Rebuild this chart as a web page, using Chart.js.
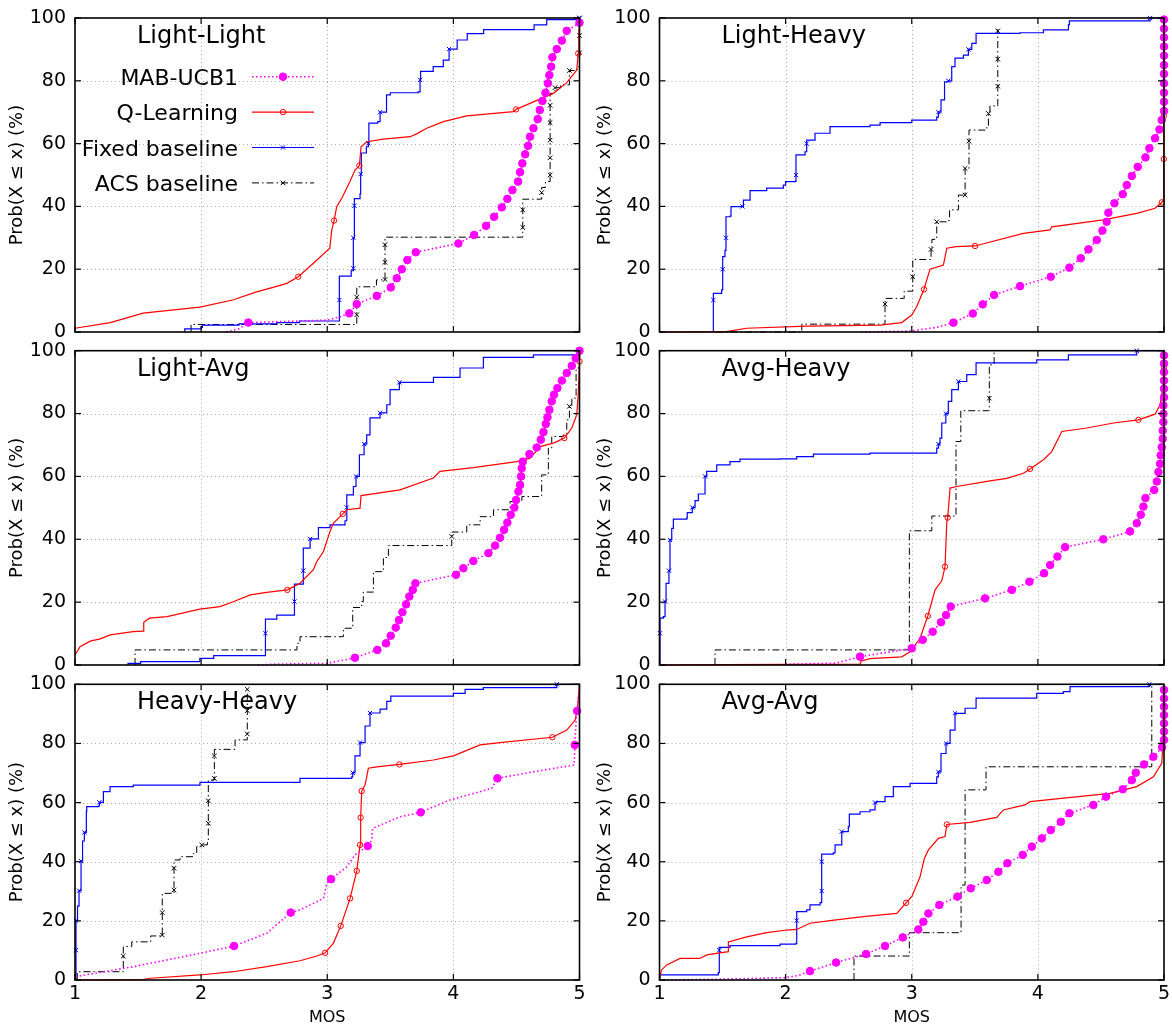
<!DOCTYPE html>
<html>
<head>
<meta charset="utf-8">
<script src="https://cdn.jsdelivr.net/npm/chart.js@4.4.1/dist/chart.umd.min.js"></script>
<style>
html, body { margin: 0; padding: 0; background: #fff; }
#wrap { position: relative; width: 1172px; height: 1027px; overflow: hidden; }
canvas { position: absolute; }
</style>
</head>
<body>
<div id="wrap"></div>
<script>
// [MOS, Prob %] ; a third value of 1 marks a point that carries a marker
const llMab = [[2.2,0],[2.3,1.0],[2.374,3.0,1],[2.7,3.4],[3.0,3.8],[3.1,4.8],[3.175,5.95,1],[3.234,8.9,1],[3.393,11.5,1],[3.504,14.2,1],[3.551,17.1,1],[3.591,20.0,1],[3.635,22.9,1],[3.702,25.4,1],[4.04,28.2,1],[4.164,30.9,1],[4.259,33.8,1],[4.323,36.7,1],[4.384,39.7,1],[4.428,42.4,1],[4.468,45.2,1],[4.513,47.9,1],[4.529,50.9,1],[4.547,53.7,1],[4.569,56.6,1],[4.592,59.3,1],[4.608,62.2,1],[4.635,64.9,1],[4.669,67.8,1],[4.685,70.7,1],[4.706,73.6,1],[4.73,76.2,1],[4.749,79.2,1],[4.761,81.8,1],[4.775,84.5,1],[4.785,87.5,1],[4.82,90.1,1],[4.86,92.8,1],[4.899,95.9,1],[5.0,98.5,1],[5.0,100]];
const llQ = [[1.0,1.2],[1.28,3.0],[1.54,6.0],[1.99,7.9],[2.25,10.2],[2.44,12.8],[2.57,14.2],[2.68,15.5],[2.77,17.6,1],[2.89,21.9],[3.02,26.7],[3.036,32.5],[3.054,35.5,1],[3.075,39.9],[3.115,42.6],[3.18,47.9],[3.22,51.6],[3.255,53,1],[3.268,59],[3.313,60.6],[3.445,61.4],[3.657,62.2],[3.709,63.1],[3.789,64.9],[3.921,67],[4.106,68.8],[4.476,70.2],[4.497,70.9,1],[4.635,73.3],[4.793,76],[4.899,79.4],[4.978,83.4],[4.99,88.7,1],[4.995,95],[5.0,100]];
const llFix = [[1.86,0],[1.87,1],[2.0,1.5],[2.01,2.2],[2.3,2.6],[2.6,3.0],[2.78,3.5],[3.096,3.8],[3.096,10.2,1],[3.096,17.8],[3.19,19.5],[3.207,20.3,1],[3.207,30,1],[3.215,40.2,1],[3.215,42.5],[3.26,44],[3.265,50.3,1],[3.27,57],[3.31,59],[3.326,60.1,1],[3.33,66.5],[3.40,67],[3.419,70,1],[3.47,75.5],[3.50,76.2],[3.72,76.5],[3.736,80.3,1],[3.74,83],[3.84,84.5],[3.92,86.6],[3.966,90.1,1],[4.03,93],[4.11,95],[4.24,96.3],[4.64,97.8],[4.74,99.5],[5.0,100,1]];
const llAcs = [[1.92,0],[1.92,2.4],[3.234,2.4],[3.234,5.5,1],[3.234,11.1,1],[3.234,14.4],[3.39,14.4],[3.39,16.6],[3.458,16.6],[3.458,16.7,1],[3.458,22.2,1],[3.458,27.8,1],[3.458,30.2],[4.55,30.2],[4.55,33.3,1],[4.55,38.9,1],[4.55,42.3],[4.69,42.3],[4.70,44.4,1],[4.70,46],[4.73,47.9],[4.767,47.9],[4.767,50,1],[4.767,55.5,1],[4.767,61.1,1],[4.767,66.7,1],[4.767,72.2,1],[4.767,76],[4.806,77.8,1],[4.85,78.7],[4.92,80],[4.92,83.3,1],[4.98,84.5],[5.0,88.9,1],[5.0,94.4,1],[5.0,100,1]];

const lhMab = [[2.6,0],[2.99,0.3],[3.2,1.5],[3.33,2.97,1],[3.484,5.9,1],[3.563,8.8,1],[3.653,11.8,1],[3.859,14.6,1],[4.102,17.6,1],[4.25,20.5,1],[4.34,23.5,1],[4.401,26.3,1],[4.467,29.3,1],[4.512,32.3,1],[4.546,35.1,1],[4.559,38,1],[4.607,41,1],[4.673,43.9,1],[4.705,46.8,1],[4.745,49.7,1],[4.792,52.6,1],[4.853,55.6,1],[4.884,58.5,1],[4.929,61.7,1],[4.964,64.5,1],[4.982,67.5,1],[5.0,70.4,1],[5.0,73.3,1],[5.0,76.2,1],[5.0,79.2,1],[5.0,82.2,1],[5.0,85.0,1],[5.0,88.0,1],[5.0,90.9,1],[5.0,93.8,1],[5.0,96.6,1],[5.0,99.5,1]];
const lhQ = [[1.0,0],[1.53,0.1],[1.69,1.2],[2.17,1.9],[2.75,2.2],[2.92,3.0],[3.0,5.4],[3.04,8.1],[3.097,13.6,1],[3.145,20],[3.251,21.3],[3.278,26.7],[3.35,27.2],[3.502,27.4,1],[3.885,31.4],[4.097,32.5],[4.11,33.5],[4.519,35.7],[4.784,37.8],[4.929,39.4],[4.983,41.3,1],[4.995,42],[4.998,55.1,1],[4.998,68.8,1],[4.998,82.6,1],[4.998,96.4,1],[5.0,100]];
const lhFix = [[1.427,0],[1.427,10.2,1],[1.427,12.3],[1.493,13.4],[1.501,20,1],[1.501,24],[1.519,26],[1.527,30,1],[1.527,36.7],[1.559,36.9],[1.567,39.9],[1.657,40,1],[1.665,42],[1.718,45],[1.85,45.8],[1.982,46.8],[2.0,47.9],[2.075,48],[2.082,50,1],[2.082,56.4],[2.154,57.4],[2.167,60,1],[2.167,61.1],[2.233,63.3],[2.352,65.4],[2.669,65.9],[2.749,66.7],[3.0,67.5],[3.198,68.4],[3.211,70,1],[3.232,73.9],[3.26,79.7],[3.29,80,1],[3.317,84.5],[3.343,87.2],[3.41,88.2],[3.449,90,1],[3.476,91.9],[3.51,95.1],[3.859,95.3],[4.044,96.2],[4.242,97.8],[4.25,99.1],[4.89,100,1],[5.0,100]];
const lhAcs = [[1.45,0],[2.128,0.3],[2.128,2.5],[2.77,2.5],[2.788,8.9,1],[2.79,10.7],[2.933,10.7],[2.94,13],[3.008,13],[3.008,17.6,1],[3.008,23.1],[3.15,23.5],[3.153,26.3,1],[3.16,29.5],[3.198,35.1,1],[3.28,35.5],[3.30,38.9],[3.37,43.6],[3.423,43.6,1],[3.423,52.1,1],[3.454,60.8,1],[3.454,64.3],[3.595,65.6],[3.608,69.6,1],[3.62,72],[3.682,72.5],[3.682,78.3,1],[3.682,86.9,1],[3.682,95.9,1],[3.682,96.4]];

const laMab = [[2.45,0],[2.6,0.3],[3.0,0.5],[3.22,2.3,1],[3.397,4.8,1],[3.466,6.9,1],[3.503,9.3,1],[3.543,11.9,1],[3.569,14.3,1],[3.596,16.8,1],[3.625,19.3,1],[3.651,21.8,1],[3.678,23.9,1],[3.699,26,1],[4.021,28.7,1],[4.079,30.8,1],[4.158,33.1,1],[4.278,35.6,1],[4.331,38,1],[4.37,40.5,1],[4.402,43,1],[4.428,45.3,1],[4.455,47.8,1],[4.484,50.1,1],[4.497,52.5,1],[4.516,55.2,1],[4.529,57.3,1],[4.537,60,1],[4.542,62.6,1],[4.55,64.7,1],[4.603,67.1,1],[4.661,69.2,1],[4.693,71.7,1],[4.714,74.1,1],[4.733,76.7,1],[4.746,78.8,1],[4.761,81.2,1],[4.78,83.9,1],[4.798,86,1],[4.825,88.1,1],[4.86,90.5,1],[4.899,92.9,1],[4.939,95.2,1],[4.97,97.6,1],[5.0,100,1]];
const laQ = [[1.0,3.2],[1.04,5.8],[1.12,7.6],[1.2,8.3],[1.28,9.6],[1.46,10.6],[1.54,10.8],[1.545,13.6],[1.59,14.9],[1.73,15.4],[1.99,17.8],[2.15,18.6],[2.26,20.2],[2.39,22.3],[2.52,23.1],[2.684,23.9,1],[2.76,25.5],[2.784,26],[2.89,30.3],[2.917,32.9],[2.97,36.1],[3.022,42.5],[3.048,45.1],[3.123,48.1,1],[3.155,49.4],[3.26,49.9],[3.268,53.9],[3.577,55.7],[3.841,59.5],[3.894,61.6],[4.158,62.8],[4.502,64.7],[4.608,65.8],[4.687,69.5],[4.793,70.6],[4.88,72.2,1],[4.939,75.4],[4.978,79.6],[4.99,86],[5.0,96.6,1],[5.0,100]];
const laFix = [[1.42,0],[1.42,0.5],[1.52,1.1],[1.99,2.1],[2.1,3.0],[2.51,3.7],[2.51,10.1,1],[2.51,14.6],[2.6,15.9],[2.74,16.8],[2.74,20.2,1],[2.74,25.7],[2.81,26.5],[2.81,30,1],[2.81,37.2],[2.864,40.1,1],[2.93,43.7],[3.022,44.6],[3.141,45.9],[3.155,50.1,1],[3.155,54.1],[3.207,56.8],[3.228,60,1],[3.255,66.9],[3.292,70.3,1],[3.313,73.2],[3.339,78.6],[3.419,80.2,1],[3.472,82.8],[3.498,87.6],[3.572,89.9,1],[3.842,91.5],[4.053,94.5],[4.238,97.9],[4.635,98.7],[5.0,100,1]];
const laAcs = [[1.476,0],[1.476,4.8],[2.72,4.8],[2.76,6.9],[2.784,9.0],[3.128,9.0],[3.128,11.7],[3.202,11.7],[3.202,18.3],[3.273,20.2],[3.286,23.2],[3.366,23.2],[3.366,29.7],[3.432,30.3],[3.445,34.2],[3.485,38],[3.987,38],[3.987,40.9,1],[3.987,42.3],[4.079,42.3],[4.106,44.6],[4.212,47.2],[4.318,49.4],[4.45,52],[4.543,53.6],[4.687,53.8],[4.7,60.5],[4.753,69],[4.78,72.7],[4.872,73.2],[4.899,78],[4.92,82.3,1],[4.939,84.9],[4.973,87],[4.973,94.5],[5.0,98.7],[5.0,100]];

const ahMab = [[2.0,0.2],[2.4,0.6],[2.59,2.65,1],[2.8,4.0],[3.0,5.3,1],[3.087,8.0,1],[3.166,10.6,1],[3.232,13.6,1],[3.272,15.9,1],[3.309,18.6,1],[3.581,21.2,1],[3.793,23.9,1],[3.933,26.5,1],[4.049,29.2,1],[4.097,31.8,1],[4.155,34.5,1],[4.216,37.5,1],[4.519,40,1],[4.731,42.5,1],[4.784,45.1,1],[4.816,47.8,1],[4.837,50.4,1],[4.853,53.1,1],[4.922,55.7,1],[4.943,58.4,1],[4.956,61.4,1],[4.969,64,1],[4.974,66.7,1],[4.982,69.3,1],[4.99,72,1],[4.99,74.6,1],[4.995,77.3,1],[4.995,79.9,1],[4.995,82.6,1],[5.0,85.2,1],[5.0,87.9,1],[5.0,90.5,1],[5.0,93.2,1],[5.0,95.9,1],[5.0,98.5,1]];
const ahQ = [[1.0,0],[1.5,0.1],[2.59,0.3],[2.6,1.3],[2.669,2.0],[2.92,2.6],[2.987,4.2],[3.066,8.5],[3.127,15.6,1],[3.185,23.9],[3.238,26.8],[3.264,31.3,1],[3.278,45.6],[3.285,46.9,1],[3.304,56.3],[3.357,56.8],[3.595,58.4],[3.753,59.4],[3.885,61],[3.938,62.4,1],[4.044,65.3],[4.11,67.9],[4.19,74.3],[4.388,75.4],[4.599,77],[4.797,78,1],[4.929,79.8],[4.969,82.8],[4.99,88.1],[5.0,94.6,1],[5.0,100]];
const ahFix = [[1.004,0],[1.004,10.1,1],[1.004,14.9],[1.03,15.4],[1.044,20.2,1],[1.052,26],[1.07,26],[1.075,30,1],[1.083,39.8,1],[1.097,43.5],[1.11,46.4],[1.216,46.7],[1.22,48.5],[1.26,50.1,1],[1.282,52.3],[1.308,54.4],[1.361,54.4],[1.361,60,1],[1.374,61.6],[1.44,61.6],[1.454,63.7],[1.559,64.7],[1.638,65.5],[1.956,65.6],[2.088,66.3],[2.22,67.1],[2.669,67.4],[3.198,69],[3.211,70.3,1],[3.224,72.2],[3.238,77],[3.27,80,1],[3.29,83.9],[3.317,87.6],[3.37,90.2,1],[3.436,92.4],[3.51,96.1],[3.991,97.1],[4.242,98.7],[4.784,100,1],[5.0,100]];
const ahAcs = [[1.44,0],[1.44,4.8],[2.981,4.8],[2.981,42.7],[3.159,42.7],[3.159,47.4],[3.351,47.4],[3.351,71.1],[3.389,71.1],[3.389,80.9],[3.608,80.9],[3.615,84.9,1],[3.615,95.5],[3.653,95.5],[3.653,100]];

const hhMab = [[1.0,0],[1.0,1.1],[1.463,4.5],[1.99,9.0],[2.261,11.5,1],[2.52,15.8],[2.71,22.8,1],[2.784,23.7],[2.97,27.6],[2.996,32.7],[3.03,34.1,1],[3.155,38.3],[3.22,42.3],[3.321,45.3,1],[3.353,47.3],[3.36,51.3],[3.577,55.2],[3.741,56.7,1],[3.974,60.9],[4.304,64.8],[4.349,68.2,1],[4.635,70.4],[4.957,72.7],[4.963,77.8],[4.963,79.5,1],[4.975,89],[4.981,91,1],[5.0,100]];
const hhQ = [[1.0,0],[1.54,0.1],[1.6,0.6],[1.99,1.7],[2.256,2.8],[2.52,4.5],[2.784,6.5],[2.917,8.1],[2.983,9.2,1],[3.048,12.4],[3.107,18.3,1],[3.181,27.6,1],[3.234,36.9,1],[3.26,45.7,1],[3.265,54.9,1],[3.273,63.9,1],[3.3,65.9],[3.326,71.6],[3.392,72.1],[3.572,72.9,1],[3.842,74.4],[4.0,75.8],[4.212,79.5],[4.37,80.3],[4.785,82.1,1],[4.899,84.5],[4.965,87.9],[4.981,91,1],[4.99,94.7],[5.0,100]];
const hhFix = [[1.008,0],[1.008,10.1,1],[1.008,20.1,1],[1.02,25],[1.032,30.2,1],[1.048,40.2,1],[1.06,47],[1.074,49.9,1],[1.09,57],[1.093,58.6],[1.185,58.8],[1.193,60.1,1],[1.225,63.7],[1.278,65.4],[1.462,65.9],[1.991,66.8],[2.784,68.2],[3.194,68.7],[3.202,70.1,1],[3.22,75.8],[3.26,80.3,1],[3.3,85.9],[3.339,90.3,1],[3.419,91.6],[3.472,94.2],[3.504,96],[4.0,96.9],[4.093,98.3],[4.238,98.9],[4.82,100,1],[5.0,100]];
const hhAcs = [[1.018,0],[1.018,2.8],[1.383,2.8],[1.383,8.1,1],[1.383,11.3],[1.45,12.9],[1.595,12.9],[1.60,14.9],[1.692,14.9],[1.692,15.2,1],[1.692,22.8,1],[1.692,29.3],[1.785,29.3],[1.785,30.4,1],[1.785,37.8,1],[1.785,40.6],[1.833,41.7],[1.938,42.8],[1.965,45.1],[2.005,45.7,1],[2.05,46.8],[2.057,53,1],[2.057,60.6,1],[2.057,67.6],[2.105,68.2,1],[2.105,75.8,1],[2.105,78],[2.269,78],[2.269,81.2],[2.366,81.2],[2.366,83.2,1],[2.366,91.1,1],[2.366,98.3,1],[2.366,99.2]];

const aaMab = [[1.0,0],[1.5,0.3],[2.0,0.8],[2.1,1.5],[2.193,3.0,1],[2.4,5.9,1],[2.638,8.8,1],[2.788,11.5,1],[2.929,14.4,1],[3.052,17.1,1],[3.092,19.7,1],[3.132,22.5,1],[3.219,25.4,1],[3.362,28.2,1],[3.468,31,1],[3.595,33.8,1],[3.687,36.6,1],[3.758,39.5,1],[3.88,42.3,1],[3.952,45.1,1],[4.031,47.9,1],[4.102,50.7,1],[4.182,53.5,1],[4.25,56.4,1],[4.44,59.2,1],[4.541,62,1],[4.673,64.5,1],[4.745,67.6,1],[4.776,70.1,1],[4.842,72.9,1],[4.916,75.5,1],[4.985,78.7,1],[5.0,81.2,1],[5.0,84,1],[5.0,86.8,1],[5.0,89.6,1],[5.0,92.4,1],[5.0,95.2,1],[5.0,98.1,1]];
const aaQ = [[1.0,0.6],[1.017,3.4],[1.057,5.1],[1.163,7.3],[1.321,7.3],[1.374,8.5],[1.546,9.6],[1.546,12.9],[1.692,14.6],[1.85,16],[2.009,16.9],[2.088,17.1],[2.193,19.2],[2.352,20.1],[2.616,21.4],[2.881,22.5],[2.955,26.1,1],[3.0,28.2],[3.066,34.9],[3.1,41.1],[3.132,44],[3.211,47.9],[3.264,48.5],[3.278,52.6,1],[3.462,53.3],[3.674,55],[3.726,57.5],[3.898,59.2],[3.938,60.3],[4.321,62],[4.572,63.1],[4.784,65.4],[4.916,68.7],[4.982,73.3],[4.99,78.9,1],[5.0,100]];
const aaFix = [[1.004,0],[1.004,1.7],[1.32,1.7],[1.466,2.5],[1.474,10.1,1],[1.474,11],[1.559,11.6],[1.956,12.1],[2.082,12.4],[2.088,20.1,1],[2.088,23.1],[2.167,23.7],[2.193,25.4],[2.273,26.2],[2.286,30.1,1],[2.286,40,1],[2.286,42.6],[2.378,43],[2.392,45.7],[2.445,45.7],[2.445,50.2,1],[2.497,51.9],[2.505,56.1],[2.59,56.9],[2.669,57.5],[2.709,60,1],[2.722,60.3],[2.788,62],[2.854,65.4],[2.987,66.5],[3.198,68.7],[3.211,70.4,1],[3.232,76.6],[3.272,80,1],[3.304,84.5],[3.343,90.2,1],[3.423,91.9],[3.51,95.3],[3.991,96.9],[4.202,97.5],[4.255,99.2],[4.884,100,1],[5.0,100]];
const aaAcs = [[2.542,0],[2.542,8.1],[2.981,8.1],[2.981,16],[3.391,16],[3.391,32.1],[3.423,32.1],[3.423,64.3],[3.589,64.3],[3.589,72.1],[4.903,72.1],[4.903,100]];

const xTicks = [1, 2, 3, 4, 5];
const yTicks = [0, 20, 40, 60, 80, 100];
const xGrid = [2, 3, 4];
const yGrid = [20, 40, 60, 80];

const FONT = 'DejaVu Sans';
Chart.defaults.font.family = FONT;
Chart.defaults.color = '#000';

const SERIES = [
  { label: 'MAB-UCB1', color: '#ff00ff', width: 1.6, dash: [1.5, 2.5], point: 'circle', r: 3.8, filled: true, stepped: false },
  { label: 'Q-Learning', color: '#ff0000', width: 1.2, dash: [], point: 'circle', r: 2.7, filled: false, stepped: false },
  { label: 'Fixed baseline', color: '#0000ff', width: 1.2, dash: [], point: 'crossRot', r: 3, filled: false, stepped: true },
  { label: 'ACS baseline', color: '#000000', width: 1, dash: [7, 3, 1.5, 3], point: 'crossRot', r: 3.2, filled: false, stepped: true }
];

const PANELS = [
  { title: 'Light-Light', data: [llMab, llQ, llFix, llAcs], left: 0,   top: 0,   w: 590, h: 340, yw: 75,   padT: 18,   padR: 10.5, xh: 8,  bottom: false, legend: true },
  { title: 'Light-Heavy', data: [lhMab, lhQ, lhFix, lhAcs], left: 588, top: 0,   w: 584, h: 340, yw: 71.5, padT: 18,   padR: 8,    xh: 8,  bottom: false },
  { title: 'Light-Avg',   data: [laMab, laQ, laFix, laAcs], left: 0,   top: 335, w: 590, h: 340, yw: 75,   padT: 15.7, padR: 10.5, xh: 10, bottom: false },
  { title: 'Avg-Heavy',   data: [ahMab, ahQ, ahFix, ahAcs], left: 588, top: 335, w: 584, h: 340, yw: 71.5, padT: 15.7, padR: 8,    xh: 10, bottom: false },
  { title: 'Heavy-Heavy', data: [hhMab, hhQ, hhFix, hhAcs], left: 0,   top: 670, w: 590, h: 357, yw: 75,   padT: 14.3, padR: 10.5, xh: 47, bottom: true },
  { title: 'Avg-Avg',     data: [aaMab, aaQ, aaFix, aaAcs], left: 588, top: 670, w: 584, h: 357, yw: 71.5, padT: 14.3, padR: 8,    xh: 47, bottom: true }
];

const pts = arr => arr.map(([x, y, m]) => ({ x, y, m: !!m }));

function strokeLine(ctx, x1, y1, x2, y2) {
  ctx.beginPath();
  ctx.moveTo(x1, y1);
  ctx.lineTo(x2, y2);
  ctx.stroke();
}

const framePlugin = {
  id: 'frame',
  beforeDatasetsDraw(chart) {
    const { ctx, chartArea: a, scales: { x, y } } = chart;
    ctx.save();
    ctx.strokeStyle = '#aaaaaa';
    ctx.lineWidth = 1;
    ctx.setLineDash([1, 3]);
    xGrid.forEach(v => {
      const px = Math.round(x.getPixelForValue(v)) + 0.5;
      strokeLine(ctx, px, a.top, px, a.bottom);
    });
    yGrid.forEach(v => {
      const py = Math.round(y.getPixelForValue(v)) + 0.5;
      strokeLine(ctx, a.left, py, a.right, py);
    });
    ctx.restore();
  },
  afterDatasetsDraw(chart, args, opts) {
    const { ctx, chartArea: a, scales: { x, y } } = chart;
    ctx.save();
    ctx.setLineDash([]);
    ctx.strokeStyle = '#000';
    ctx.lineWidth = 1.6;
    ctx.strokeRect(a.left, a.top, a.right - a.left, a.bottom - a.top);
    ctx.lineWidth = 1.2;
    const tl = 6;
    xTicks.forEach(v => {
      const px = x.getPixelForValue(v);
      strokeLine(ctx, px, a.bottom, px, a.bottom - tl);
      strokeLine(ctx, px, a.top, px, a.top + tl);
    });
    yTicks.forEach(v => {
      const py = y.getPixelForValue(v);
      strokeLine(ctx, a.left, py, a.left + tl, py);
      strokeLine(ctx, a.right, py, a.right - tl, py);
    });

    // panel title
    ctx.fillStyle = '#000';
    ctx.font = '24px "' + FONT + '"';
    ctx.textAlign = 'left';
    ctx.textBaseline = 'alphabetic';
    ctx.fillText(opts.title, a.left + 62, a.top + 25);

    // legend (first panel only)
    if (opts.legend) {
      ctx.font = '22px "' + FONT + '"';
      SERIES.forEach((s, i) => {
        const ly = 76.7 + i * 35.4;
        ctx.fillStyle = '#000';
        ctx.textAlign = 'right';
        ctx.fillText(s.label, 238, ly + 8);
        ctx.strokeStyle = s.color;
        ctx.lineWidth = s.width;
        ctx.setLineDash(s.dash);
        strokeLine(ctx, 252, ly, 314, ly);
        ctx.setLineDash([]);
        ctx.lineWidth = 1;
        ctx.fillStyle = s.filled ? s.color : 'rgba(0,0,0,0)';
        Chart.helpers.drawPoint(ctx, { pointStyle: s.point, radius: s.r, rotation: 0, borderWidth: 1 }, 283, ly);
      });
    }
    ctx.restore();
  }
};

const wrap = document.getElementById('wrap');

PANELS.forEach(p => {
  const cv = document.createElement('canvas');
  cv.width = p.w;
  cv.height = p.h;
  cv.style.left = p.left + 'px';
  cv.style.top = p.top + 'px';
  cv.style.width = p.w + 'px';
  cv.style.height = p.h + 'px';
  wrap.appendChild(cv);

  new Chart(cv, {
    type: 'line',
    data: {
      datasets: SERIES.map((s, i) => ({
        label: s.label,
        data: pts(p.data[i]),
        borderColor: s.color,
        borderWidth: s.width,
        borderDash: s.dash,
        stepped: s.stepped,
        tension: 0,
        fill: false,
        pointStyle: s.point,
        pointRadius: c => (c.raw && c.raw.m ? s.r : 0),
        pointHoverRadius: 0,
        pointHitRadius: 0,
        pointBackgroundColor: s.filled ? s.color : 'rgba(0,0,0,0)',
        pointBorderColor: s.color,
        pointBorderWidth: 1,
        clip: 10
      }))
    },
    options: {
      responsive: false,
      animation: false,
      devicePixelRatio: 1,
      events: [],
      layout: { padding: { top: p.padT, right: p.padR, bottom: 0, left: 0 } },
      plugins: {
        legend: { display: false },
        tooltip: { enabled: false },
        frame: { title: p.title, legend: !!p.legend }
      },
      scales: {
        x: {
          type: 'linear',
          min: 1,
          max: 5,
          grid: { display: false, drawTicks: false },
          border: { display: false },
          ticks: { display: p.bottom, stepSize: 1, padding: 3, maxRotation: 0, color: '#000', font: { size: 19 } },
          title: { display: p.bottom, text: 'MOS', color: '#000', font: { size: 16 }, padding: 0 },
          afterFit: s => { s.height = p.xh; s.paddingLeft = 0; s.paddingRight = 0; }
        },
        y: {
          min: 0,
          max: 100,
          grid: { display: false, drawTicks: false },
          border: { display: false },
          ticks: { stepSize: 20, padding: 9, color: '#000', font: { size: 19 } },
          title: { display: true, text: 'Prob(X ≤ x) (%)', color: '#000', font: { size: 18 }, padding: { top: 6.5, bottom: 0 } },
          afterFit: s => { s.width = p.yw; s.paddingTop = 0; s.paddingBottom = 0; }
        }
      }
    },
    plugins: [framePlugin]
  });
});
</script>
</body>
</html>
